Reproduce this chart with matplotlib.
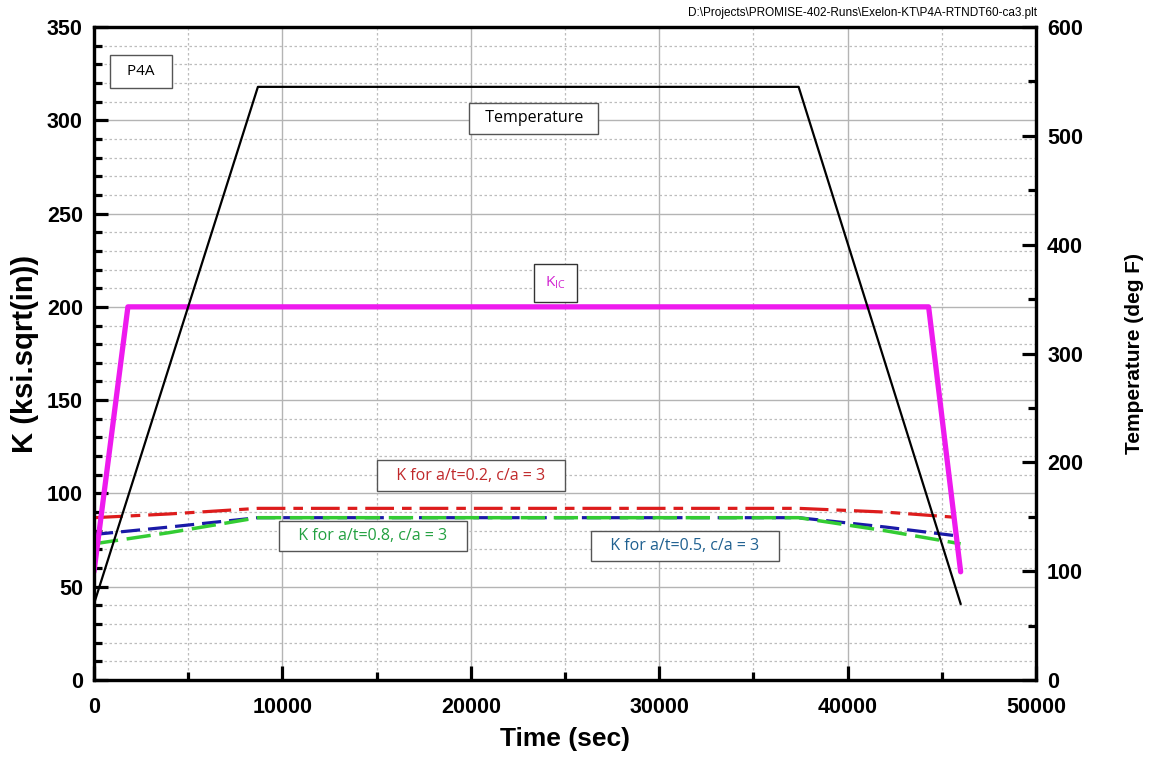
import matplotlib.pyplot as plt
from matplotlib.ticker import MultipleLocator

# time (sec) and values
temp_t = [0, 8700, 37400, 46000]
temp_f = [70, 545, 545, 70]

kic_t = [0, 1800, 44300, 46000]
kic_k = [58, 200, 200, 58]

k02_t = [0, 4000, 8700, 37400, 42000, 46000]
k02_k = [87, 89, 92, 92, 90, 87]
k05_t = [0, 4000, 8700, 37400, 42000, 46000]
k05_k = [78, 82, 87, 87, 82, 77]
k08_t = [0, 4000, 8700, 37400, 42000, 46000]
k08_k = [73, 79, 87, 87, 80, 73]

plt.rcParams['font.family'] = ['Liberation Sans', 'DejaVu Sans']

fig = plt.figure(figsize=(11.49, 7.58), dpi=100)
ax = fig.add_axes([94 / 1149, 1 - 680 / 758, 942 / 1149, 653 / 758])
ax2 = ax.twinx()

ax.set_xlim(0, 50000)
ax.set_ylim(0, 350)
ax2.set_ylim(0, 600)

ax.xaxis.set_major_locator(MultipleLocator(10000))
ax.xaxis.set_minor_locator(MultipleLocator(5000))
ax.yaxis.set_major_locator(MultipleLocator(50))
ax.yaxis.set_minor_locator(MultipleLocator(10))
ax2.yaxis.set_major_locator(MultipleLocator(100))
ax2.yaxis.set_minor_locator(MultipleLocator(50))

ax.grid(which='major', color='#b4b4b4', lw=1.0, ls='-')
ax.grid(which='minor', color='#bdbdbd', lw=0.9, ls=(0, (2, 2)))
ax.set_axisbelow(True)

for a in (ax, ax2):
    for s in a.spines.values():
        s.set_linewidth(2.3)
    a.tick_params(which='major', direction='in', length=10, width=2.3, labelsize=15.5, pad=8)
    a.tick_params(which='minor', direction='in', length=6, width=2.3)
ax.tick_params(axis='x', pad=12)
for lab in ax.get_xticklabels() + ax.get_yticklabels() + ax2.get_yticklabels():
    lab.set_fontweight('bold')

# K curves
ax.plot(k02_t, k02_k, color='#dd1c1c', lw=2.3, ls=(0, (9, 2.5, 3, 2.5)), zorder=3)
ax.plot(k05_t, k05_k, color='#1a1aa8', lw=2.3, ls=(0, (6, 2.5)), zorder=3)
ax.plot(k08_t, k08_k, color='#33cc33', lw=2.5, ls=(0, (7, 2.5)), zorder=3)
ax.plot(kic_t, kic_k, color='#ee1aee', lw=3.8, solid_capstyle='round', zorder=4)

ax2.plot(temp_t, temp_f, color='black', lw=1.6, zorder=5)

ax.set_xlabel('Time (sec)', fontsize=19, fontweight='bold', labelpad=7)
ax.set_ylabel('K (ksi.sqrt(in))', fontsize=21, fontweight='bold', labelpad=6)
ax2.set_ylabel('Temperature (deg F)', fontsize=15, fontweight='bold', labelpad=30)

lab_font = ['Open Sans', 'DejaVu Sans']
box = dict(boxstyle='square,pad=0.45', fc='white', ec='#555555', lw=1)
ax.text(2500, 326, '  P4A  ', fontsize=11, family=lab_font, ha='center', va='center',
        bbox=dict(boxstyle='square,pad=0.6', fc='white', ec='#555555', lw=1), zorder=6)
ax.text(23350, 301, '  Temperature  ', fontsize=11.5, family=lab_font, ha='center', va='center',
        bbox=box, zorder=6)
ax.text(24500, 213, r'K$_{\mathregular{IC}}$', fontsize=11, family=lab_font, color='#d020d0',
        ha='center', va='center', bbox=dict(boxstyle='square,pad=0.7', fc='white', ec='#333333', lw=1), zorder=6)
ax.text(20000, 109.6, '   K for a/t=0.2, c/a = 3   ', fontsize=11.5, family=lab_font, color='#c0282a',
        ha='center', va='center', bbox=box, zorder=6)
ax.text(14800, 77.2, '   K for a/t=0.8, c/a = 3   ', fontsize=11.5, family=lab_font, color='#22a040',
        ha='center', va='center', bbox=box, zorder=6)
ax.text(31370, 71.8, '   K for a/t=0.5, c/a = 3   ', fontsize=11.5, family=lab_font, color='#1f6090',
        ha='center', va='center', bbox=box, zorder=6)

fig.text(1037 / 1149, 1 - 13 / 758, r'D:\Projects\PROMISE-402-Runs\Exelon-KT\P4A-RTNDT60-ca3.plt',
         fontsize=8.5, ha='right', va='center')

plt.savefig('out.png', dpi=100)
